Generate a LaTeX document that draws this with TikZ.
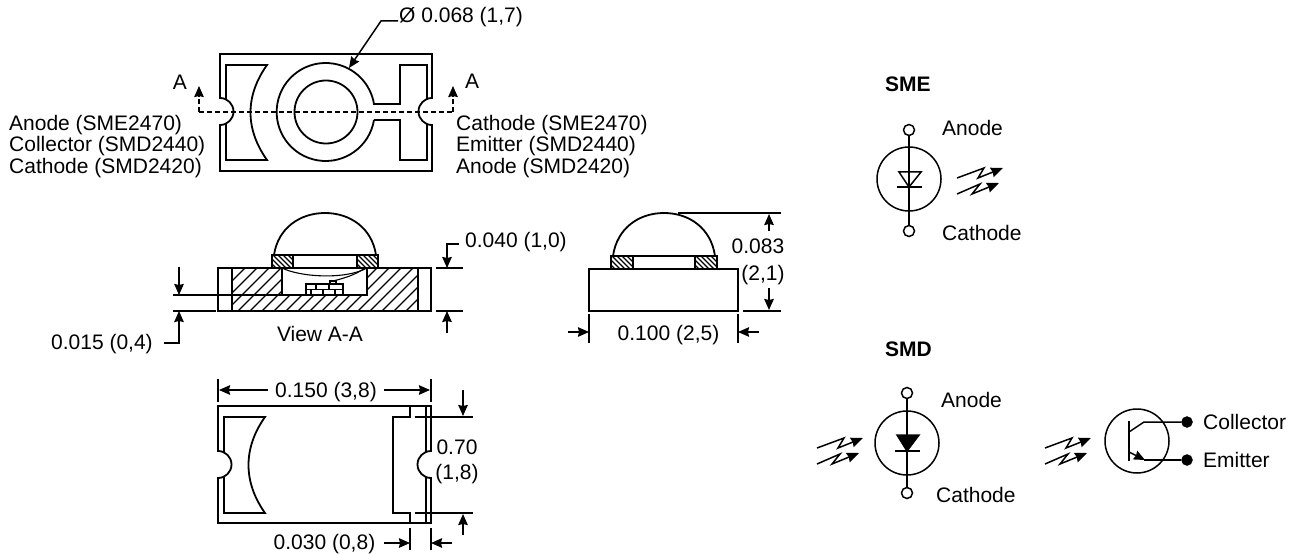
\documentclass[tikz,border=0pt]{standalone}
\usepackage{xcolor}
\usepackage{fontspec}
\setmainfont{Liberation Sans}
\usetikzlibrary{shapes, arrows.meta, positioning}

\begin{document}
\begin{tikzpicture}[x=1pt, y=1pt, yscale=-1,
        part/.style={line width=1.8pt, line join=miter},
        thinpart/.style={line width=1.1pt},
        symline/.style={line width=1.5pt},
        dimline/.style={line width=1.5pt},
        dimtip/.style={-{Stealth[length=11pt, width=9.5pt, inset=1pt]}},
        dimarrow/.style={dimline, dimtip},
        cutline/.style={dimline, dash pattern=on 5pt off 3pt},
        legend/.style={inner sep=0pt, text height=15pt, text depth=0pt, font=\fontsize{21}{21}\selectfont},
        dimlabel/.style={legend, outer xsep=7pt},
        pinlabel/.style={legend, anchor=west},
        titlelabel/.style={legend, anchor=west, font=\fontsize{21}{21}\selectfont\bfseries},
        symbolring/.style={draw, circle, line width=1.5pt, minimum size=64pt, inner sep=0pt},
        openpin/.style={draw, circle, line width=1.5pt, minimum size=11pt, inner sep=0pt},
        solidpin/.style={draw, circle, fill=black, minimum size=11pt, inner sep=0pt},
        lightray/.style={line width=1.5pt, -{Stealth[length=12pt, width=10pt, inset=1pt]}}]
    \useasboundingbox (0,0) rectangle (1303,556);

    % top view
    \draw[part] (220,98) arc[start angle=-90, end angle=90, radius=13.5] -- (220,171) -- (432,171) -- (432,125)
        arc[start angle=90, end angle=270, radius=13.5] -- (432,54) -- (220,54) -- cycle;
    \draw[part] (226,100) -- (226,65) -- (267,65) .. controls (245,96) and (245,129) .. (267,160) -- (226,160) -- (226,124);
    \draw[part] (374,120) arc[start angle=9.4, end angle=350.6, radius=49] -- (400,104) -- (400,65) -- (427,65) -- (427,100);
    \draw[part] (374,120) -- (400,120) -- (400,160) -- (427,160) -- (427,124);
    \draw[part] (326,112) circle[radius=31.5];
    \draw[cutline, dimtip] (199,112) -- (199,86);
    \draw[cutline] (199,112) -- (453,112);
    \draw[cutline, dimtip] (453,112) -- (453,86);
    \node[legend] (cutleft) at (180,82) {A};
    \node[legend] (cutright) at (472,81) {A};
    \node[pinlabel] (pinsme) at (9,123) {Anode (SME2470)};
    \node[pinlabel] (pinsmc) at (9,144) {Collector (SMD2440)};
    \node[pinlabel] (pinsmd) at (9,166) {Cathode (SMD2420)};
    \node[pinlabel] (pinrme) at (456,123) {Cathode (SME2470)};
    \node[pinlabel] (pinrmc) at (456,144) {Emitter (SMD2440)};
    \node[pinlabel] (pinrmd) at (456,166) {Anode (SMD2420)};
    \node[pinlabel] (domedia) at (399,15) {Ø 0.068 (1,7)};
    \coordinate (domeedge) at (349,68);
    \draw[dimarrow] (domedia.west) ++(-1,6) -- (381,21) -- (domeedge);

    % section A-A
    \begin{scope}
        \clip (232,268) -- (282,268) -- (282,295) -- (367,295) -- (367,268) -- (418,268) -- (418,311) -- (232,311) -- cycle;
        \foreach \h in {190,202,...,420} {
            \draw[thinpart] (\h,311) -- ++(43,-43);
        }
    \end{scope}
    \draw[part] (218,268) rectangle (431,311);
    \draw[part] (232,268) -- (232,311);
    \draw[part] (418,268) -- (418,311);
    \draw[part] (282,268) -- (282,295) -- (367,295) -- (367,268);
    \draw[part] (173,295) -- (282,295);
    \draw[part] (173,311) -- (216,311);
    \foreach \px in {272,357} {
        \begin{scope}
            \clip (\px,255) rectangle ++(21,13);
            \foreach \h in {-14,-9,...,24} {
                \draw[thinpart] (\px+\h,255) -- ++(13,13);
            }
        \end{scope}
        \draw[part] (\px,255) rectangle ++(21,13);
    }
    \draw[part] (293,255) -- (357,255);
    \draw[part] (274,255) .. controls (278,228) and (300,213) .. (325,213) .. controls (350,213) and (372,228) .. (376,255);
    \draw[thinpart] (282,268) .. controls (300,277) and (345,280) .. (367,268);
    \draw[thinpart] (333,281) .. controls (345,278) and (355,275) .. (365,268);
    \draw[thinpart] (306,284) rectangle (343,295);
    \draw[thinpart] (306,289.5) -- (343,289.5);
    \foreach \bx in {316,329} {
        \draw[thinpart] (\bx,284) -- (\bx,289.5);
    }
    \foreach \bx in {311,323,335} {
        \draw[thinpart] (\bx,289.5) -- (\bx,295);
    }
    \draw[thinpart] (330,281) rectangle (336,284);
    \node[legend] (viewname) at (320,334) {View A-A};
    \draw[dimarrow] (179,267) -- (179,295);
    \node[legend, anchor=west] (gapvalue) at (51,342) {0.015 (0,4)};
    \draw[dimarrow] (164,343) -- (179,343) -- (179,311);
    \node[legend, anchor=west] (lensvalue) at (465,240) {0.040 (1,0)};
    \draw[dimarrow] (459,244) -- (447,244) -- (447,268);
    \draw[dimline] (436,268) -- (463,268);
    \draw[dimline] (436,311) -- (463,311);
    \draw[dimarrow] (447,333) -- (447,311);

    % side view
    \draw[part] (589,269) rectangle (738,311);
    \foreach \px in {611,695} {
        \begin{scope}
            \clip (\px,256) rectangle ++(22,13);
            \foreach \h in {-14,-9,...,24} {
                \draw[thinpart] (\px+\h,256) -- ++(13,13);
            }
        \end{scope}
        \draw[part] (\px,256) rectangle ++(22,13);
    }
    \draw[part] (633,256) -- (695,256);
    \draw[part] (613,256) .. controls (617,228) and (639,213) .. (664,213) .. controls (689,213) and (711,228) .. (715,256);
    \draw[dimline] (678,213) -- (781,213);
    \draw[dimline] (743,311) -- (781,311);
    \draw[dimarrow] (769,231) -- (769,214);
    \draw[dimarrow] (769,288) -- (769,310);
    \node[legend] (heighttop) at (758,246) {0.083};
    \node[legend] (heightlow) at (763,273) {(2,1)};
    \draw[dimline] (589,314) -- (589,343);
    \draw[dimline] (738,314) -- (738,343);
    \draw[dimarrow] (568,332) -- (589,332);
    \draw[dimarrow] (759,332) -- (738,332);
    \node[legend] (sidewidth) at (668.5,333) {0.100 (2,5)};

    % bottom view
    \draw[part] (218,451) arc[start angle=-90, end angle=90, radius=13.5] -- (218,523) -- (431,523) -- (431,478)
        arc[start angle=90, end angle=270, radius=13.5] -- (431,406) -- (218,406) -- cycle;
    \draw[part] (224,453) -- (224,417) -- (265,417) .. controls (243,448) and (243,482) .. (265,513) -- (224,513) -- (224,477);
    \draw[part] (410,406) -- (410,417) -- (393,417) -- (393,513) -- (410,513) -- (410,523);
    \draw[thinpart] (426,406) -- (426,452);
    \draw[thinpart] (426,477) -- (426,523);
    \draw[dimline] (218,379) -- (218,402);
    \draw[dimline] (431,379) -- (431,402);
    \node[dimlabel] (fullwidth) at (326,390) {0.150 (3,8)};
    \coordinate (fullleft) at (219,390);
    \coordinate (fullright) at (430,390);
    \draw[dimarrow] (fullwidth) -- (fullleft);
    \draw[dimarrow] (fullwidth) -- (fullright);
    \draw[dimline] (415,417) -- (473,417);
    \draw[dimline] (415,513) -- (473,513);
    \draw[dimarrow] (463,390) -- (463,416);
    \draw[dimarrow] (463,535) -- (463,514);
    \node[legend] (padtop) at (457,447) {0.70};
    \node[legend] (padlow) at (457,472) {(1,8)};
    \draw[dimline] (410,528) -- (410,550);
    \draw[dimline] (431,528) -- (431,550);
    \draw[dimarrow] (384,543) -- (410,543);
    \draw[dimarrow] (452,543) -- (431,543);
    \node[legend] (padwidth) at (324.5,542) {0.030 (0,8)};

    % symbols
    \node[titlelabel] (smetitle) at (885,84) {SME};
    \node[symbolring] (smering) at (909,179) {};
    \node[openpin] (smeanode) at (909,130) {};
    \node[openpin] (smecathode) at (909,231) {};
    \draw[symline] (smeanode) -- (smecathode);
    \draw[symline] (899,172) -- (921,172) -- (909,187) -- cycle;
    \draw[part] (897,187) -- (922,187);
    \node[pinlabel] (smeanodetext) at (942,128) {Anode};
    \node[pinlabel] (smecathodetext) at (942,233) {Cathode};

    \node[titlelabel] (smdtitle) at (885,349) {SMD};
    \node[symbolring] (smdring) at (907,443) {};
    \node[openpin] (smdanode) at (907,393) {};
    \node[openpin] (smdcathode) at (907,493) {};
    \draw[symline] (smdanode) -- (smdcathode);
    \draw[symline, fill=black] (897,435) -- (919,435) -- (907,451) -- cycle;
    \draw[part] (895,451) -- (920,451);
    \node[pinlabel] (smdanodetext) at (941,400) {Anode};
    \node[pinlabel] (smdcathodetext) at (936,495) {Cathode};

    \node[symbolring] (smtring) at (1137,441) {};
    \node[solidpin] (smtcollector) at (1187,422) {};
    \node[solidpin] (smtemitter) at (1187,460) {};
    \draw[part] (1129,421) -- (1129,461);
    \draw[symline] (1129,432) -- (1144,422) -- (smtcollector);
    \draw[symline, dimtip] (1129,452) -- (1145,460);
    \draw[symline] (1144,460) -- (smtemitter);
    \node[pinlabel] (smtcollectortext) at (1203,422) {Collector};
    \node[pinlabel] (smtemittertext) at (1203,460) {Emitter};

    \foreach \dx/\dy in {0/0, 140/-270, 228/0} {
        \draw[lightray] (817+\dx,448+\dy) -- (844+\dx,438+\dy) -- (838+\dx,448+\dy) -- (863+\dx,438+\dy);
        \draw[lightray] (817+\dx,464+\dy) -- (840+\dx,454+\dy) -- (832+\dx,464+\dy) -- (859+\dx,453+\dy);
    }
\end{tikzpicture}
\end{document}
